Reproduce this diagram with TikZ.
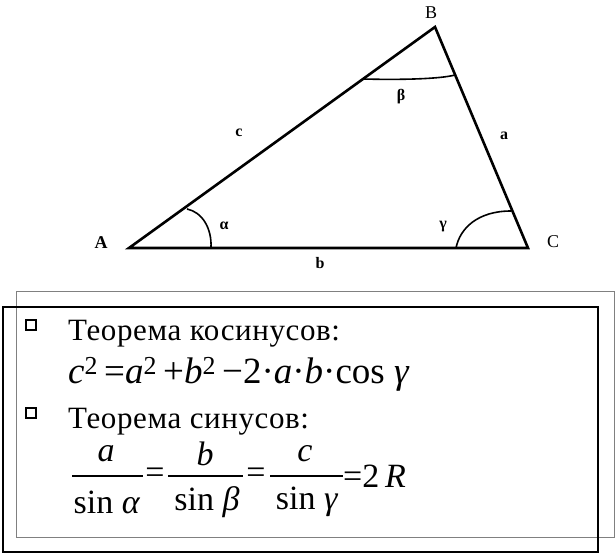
\documentclass[tikz,border=0pt]{standalone}
\usepackage{fontspec}
\setmainfont{Liberation Serif}
\newfontfamily\headfont[LetterSpace=2]{Liberation Serif}

\tikzset{
  side/.style={line width=2.6pt},
  arcline/.style={line width=1.6pt},
  vlabel/.style={font=\fontsize{18}{18}\selectfont, inner sep=0pt},
  glabel/.style={font=\fontsize{16}{16}\selectfont\bfseries, inner sep=0pt},
  heading/.style={anchor=base west, inner sep=0pt, font=\fontsize{31}{31}\headfont},
  formula/.style={inner sep=0pt, font=\fontsize{34}{34}\selectfont},
  bulletbox/.style={line width=1.2pt}
}

\begin{document}
\begin{tikzpicture}[x=1pt, y=-1pt]
  \useasboundingbox (0,0) rectangle (616,554);
  \fill[white] (0,0) rectangle (616,554);

  % triangle
  \coordinate (A) at (129,248);
  \coordinate (B) at (435,27);
  \coordinate (C) at (528,248);
  \draw[side, line join=miter] (A) -- (B) -- (C) -- cycle;

  % angle marks
  \coordinate (a1) at (211,248);
  \coordinate (a2) at (187,209);
  \draw[arcline] (a1) .. controls (212,228) and (202,212) .. (a2);
  \coordinate (b1) at (364,79);
  \coordinate (b2) at (455,75);
  \draw[arcline] (b1) .. controls (400,80) and (440,79) .. (b2);
  \coordinate (g1) at (456,248);
  \coordinate (g2) at (511,211);
  \draw[arcline] (g1) .. controls (460,228) and (478,211) .. (g2);

  % labels
  \node[vlabel, font=\fontsize{18}{18}\selectfont\bfseries] (lA) at (101,243) {A};
  \node[vlabel] (lB) at (431,13) {B};
  \node[vlabel] (lC) at (553,242) {C};
  \node[glabel] (la) at (504,136) {a};
  \node[glabel] (lb) at (320,263) {b};
  \node[glabel] (lc) at (239,133) {c};
  \node[glabel] (lal) at (224,226) {α};
  \node[glabel] (lbe) at (401,97) {β};
  \node[glabel] (lga) at (443,227) {γ};

  % frames
  \draw[gray, line width=1pt] (16,291) rectangle (614,537);
  \draw[line width=1.4pt] (3,307) rectangle (598,552);

  % cosine theorem
  \draw[bulletbox] (26,320) rectangle (36,330);
  \node[heading] (kos) at (68,340) {Теорема косинусов:};
  \node[formula, anchor=west, font=\fontsize{37}{37}\selectfont] (fkos) at (68,374)
    {\textit{c}\textsuperscript{2}\,=\textit{a}\textsuperscript{2}\,+\textit{b}\textsuperscript{2}\,−2·\textit{a}·\textit{b}·cos \textit{γ}};

  % sine theorem
  \draw[bulletbox] (26,408) rectangle (36,418);
  \node[heading] (sin) at (68,428) {Теорема синусов:};
  \node[formula] (na) at (106,454) {\textit{a}};
  \node[formula] (nb) at (205,454) {\textit{b}};
  \node[formula] (nc) at (305,454) {\textit{c}};
  \node[formula] (da) at (107,502) {sin \textit{α}};
  \node[formula] (db) at (207,502) {sin \textit{β}};
  \node[formula] (dc) at (307,502) {sin \textit{γ}};
  \draw[line width=1.4pt] (72,476) -- (143,476);
  \draw[line width=1.4pt] (168,476) -- (243,476);
  \draw[line width=1.4pt] (270,476) -- (343,476);
  \node[formula] (eq1) at (155,476) {=};
  \node[formula] (eq2) at (256,476) {=};
  \node[formula, anchor=west] (eq3) at (343,476) {=2\,\textit{R}};
\end{tikzpicture}
\end{document}
